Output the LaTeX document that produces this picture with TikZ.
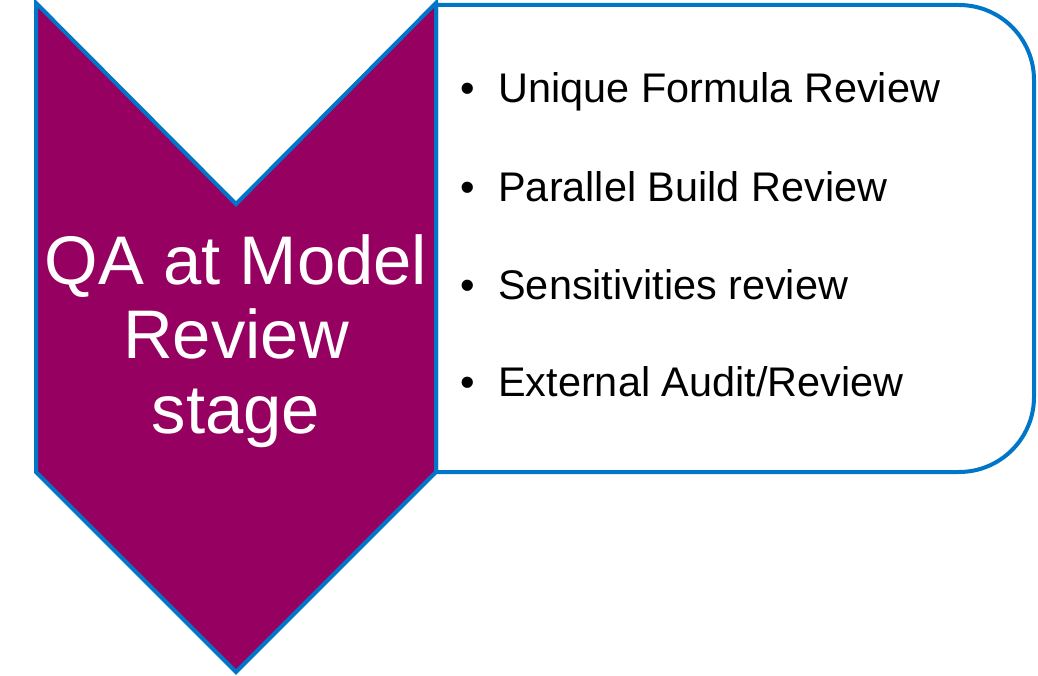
\documentclass[tikz,border=0pt]{standalone}
\usepackage{fontspec}
\setmainfont{Liberation Sans}
\usepackage{tikz}
\definecolor{plum}{RGB}{150,0,96}
\definecolor{edgeblue}{RGB}{0,118,200}

\begin{document}
\begin{tikzpicture}[x=0.5pt,y=0.5pt,
	edge/.style={draw=edgeblue, line width=2pt, line join=miter},
	itemtext/.style={anchor=base west, inner sep=0pt, font=\fontsize{20.7}{24}\selectfont}]
	\useasboundingbox (0,0) rectangle (1038,675);
	% list box, only the right corners are rounded
	\draw[edge, fill=white] (436,670) -- (959,670) arc[start angle=90, end angle=0, radius=75] -- (1034,278) arc[start angle=0, end angle=-90, radius=75] -- (436,203) -- cycle;
	% chevron
	\draw[edge, fill=plum] (36,672) -- (236,471) -- (436,672) -- (436,203) -- (236,3) -- (36,203) -- cycle;
	\node[white, align=center, inner sep=0pt, font=\fontsize{34.4}{37.2}\selectfont] (stage) at (236,334) {QA at Model\\Review\\stage};
	\foreach \y/\t [count=\i] in {103/Unique Formula Review, 202/Parallel Build Review, 300/Sensitivities review, 397/{External Audit/Review}} {\node[itemtext] (item\i) at (460,675-\y) {\makebox[19pt][l]{\textbullet}\t};}
\end{tikzpicture}
\end{document}
